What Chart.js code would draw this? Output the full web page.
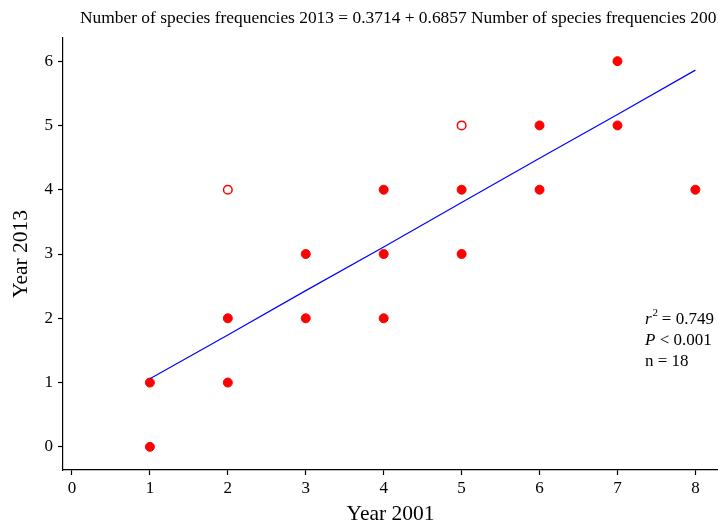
<!DOCTYPE html>
<html>
<head>
<meta charset="utf-8">
<script src="https://cdn.jsdelivr.net/npm/chart.js@4.4.0/dist/chart.umd.min.js"></script>
<style>
  html, body { margin: 0; padding: 0; background: #fff; }
  canvas { display: block; }
</style>
</head>
<body>
<canvas id="c" width="718" height="527"></canvas>
<script>
// species frequencies, filled markers
var filledX = [1, 1, 2, 2, 3, 3, 4, 4, 4, 5, 5, 6, 6, 7, 7, 8];
var filledY = [0, 1, 1, 2, 2, 3, 2, 3, 4, 3, 4, 4, 5, 5, 6, 4];
// open markers
var openX = [2, 5];
var openY = [4, 5];
// fitted line
var fitX = [1, 2, 3, 4, 5, 6, 7, 8];
var fitY = [1.06, 1.74, 2.43, 3.11, 3.80, 4.49, 5.17, 5.86];
var xTicks = [0, 1, 2, 3, 4, 5, 6, 7, 8];
var yTicks = [0, 1, 2, 3, 4, 5, 6];

var titleText = "Number of species frequencies 2013 = 0.3714 + 0.6857 Number of species frequencies 2001";
var serif = "'Liberation Serif', 'DejaVu Serif', serif";

function pts(xs, ys){
	var out = [];
	for (var i = 0; i < xs.length; i++) out.push({x: xs[i], y: ys[i]});
	return out;
}

// title + statistics box, drawn as plain text
var textPlugin = {
	id: "texts",
	afterDraw: function(chart){
		var ctx = chart.ctx;
		ctx.save();
		ctx.fillStyle = "#000";
		ctx.textBaseline = "alphabetic";
		ctx.textAlign = "left";
		ctx.font = "17.4px " + serif;
		ctx.fillText(titleText, 80, 23);

		var x0 = 645;
		ctx.font = "italic 17px " + serif;
		ctx.fillText("r", x0, 324);
		var w = ctx.measureText("r").width;
		ctx.font = "11px " + serif;
		ctx.fillText("2", x0 + w + 1, 316);
		ctx.font = "17px " + serif;
		ctx.fillText(" = 0.749", x0 + w + 6, 324);

		ctx.font = "italic 17px " + serif;
		ctx.fillText("P", x0, 345);
		w = ctx.measureText("P").width;
		ctx.font = "17px " + serif;
		ctx.fillText(" < 0.001", x0 + w, 345);

		ctx.fillText("n = 18", x0, 366);
		ctx.restore();
	}
};

var axisCommon = {
	type: "linear",
	border: { display: true, color: "#000", width: 1.2 },
	grid: { drawOnChartArea: false, drawTicks: true, tickLength: 5, color: "#000", tickWidth: 1.2 },
	ticks: { color: "#000", font: { family: serif, size: 17 } }
};

new Chart(document.getElementById("c"), {
	type: "scatter",
	data: {
		datasets: [
			{
				type: "line",
				data: pts(fitX, fitY),
				borderColor: "#0000ff",
				borderWidth: 1.2,
				pointRadius: 0,
				fill: false,
				tension: 0
			},
			{
				data: pts(filledX, filledY),
				backgroundColor: "#ff0000",
				borderColor: "#ff0000",
				pointRadius: 4.5,
				borderWidth: 1
			},
			{
				data: pts(openX, openY),
				backgroundColor: "#ffffff",
				borderColor: "#ff0000",
				pointRadius: 4.3,
				borderWidth: 1.5
			}
		]
	},
	options: {
		responsive: false,
		animation: false,
		layout: { autoPadding: false, padding: { top: 38, right: 0, left: 0, bottom: 0 } },
		plugins: { legend: { display: false }, tooltip: { enabled: false } },
		scales: {
			x: Object.assign({}, axisCommon, {
				min: -0.115, max: 8.29,
				ticks: Object.assign({}, axisCommon.ticks, { padding: 3 }),
				afterBuildTicks: function(s){ s.ticks = xTicks.map(function(v){ return {value: v}; }); },
				afterFit: function(s){ s.height = 57; s.paddingLeft = 0; s.paddingRight = 0; },
				title: { display: true, text: "Year 2001", color: "#000", font: { family: serif, size: 21.5 }, padding: { top: 0, bottom: 0 } }
			}),
			y: Object.assign({}, axisCommon, {
				min: -0.36, max: 6.36,
				ticks: Object.assign({}, axisCommon.ticks, { padding: 5 }),
				afterBuildTicks: function(s){ s.ticks = yTicks.map(function(v){ return {value: v}; }); },
				afterFit: function(s){ s.width = 63; s.paddingTop = 0; s.paddingBottom = 0; },
				title: { display: true, text: "Year 2013", color: "#000", font: { family: serif, size: 21.5 }, padding: { top: 8, bottom: 0 } }
			})
		}
	},
	plugins: [textPlugin]
});
</script>
</body>
</html>
